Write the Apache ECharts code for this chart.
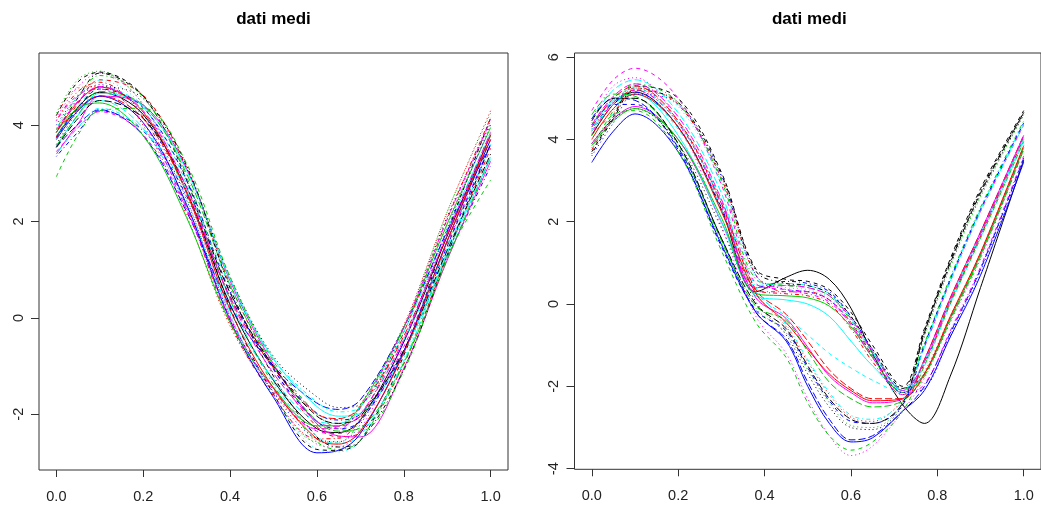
<!DOCTYPE html>
<html>
<head>
<meta charset="utf-8">
<script src="https://cdn.jsdelivr.net/npm/echarts@6/dist/echarts.min.js"></script>
<style>
html,body{margin:0;padding:0;background:#fff;}
#chart{width:1041px;height:509px;}
</style>
</head>
<body>
<div id="chart"></div>
<script>
// ---- data ----
const titleLeft = 'dati medi';
const titleRight = 'dati medi';
const xTicks = [0, 0.2, 0.4, 0.6, 0.8, 1.0];
const yTicksLeft = [-2, 0, 2, 4];
const yTicksRight = [-4, -2, 0, 2, 4, 6];

const xsLeft = [0, 0.05, 0.1, 0.2, 0.3, 0.4, 0.5, 0.6, 0.65, 0.7, 0.8, 0.9, 1.0];
const leftSeries = [
  [3.75,4.38,4.68,4.22,2.62,0.28,-1.3,-2.3,-2.38,-2.12,-0.5,1.7,3.8],
  [3.76,4.45,4.94,4.62,3.12,0.70,-1.05,-2.26,-2.47,-2.38,-0.96,1.31,3.52],
  [4.25,4.95,5.12,4.42,2.48,-0.04,-1.63,-2.57,-2.58,-2.12,-0.22,2.2,4.25],
  [3.35,3.86,4.3,3.88,2.53,0.45,-1.0,-1.98,-2.12,-1.99,-0.69,1.26,3.15],
  [3.78,4.32,4.51,3.93,2.32,0.14,-1.27,-2.14,-2.19,-1.86,-0.29,1.83,3.82],
  [3.4,4.03,4.6,4.42,3.09,0.77,-0.96,-2.2,-2.45,-2.47,-1.05,1.2,3.25],
  [4.2,4.9,5.1,4.6,2.86,0.21,-1.58,-2.73,-2.75,-2.55,-0.78,1.77,4.15],
  [4.2,4.77,4.8,3.99,2.12,-0.17,-1.54,-2.3,-2.25,-1.8,-0.15,2.2,4.3],
  [3.92,4.61,5.03,4.58,2.92,0.38,-1.39,-2.57,-2.73,-2.54,-0.94,1.47,3.78],
  [3.54,4.02,4.32,3.78,2.2,0.25,-1.0,-1.77,-1.9,-1.7,-0.2,1.8,3.6],
  [3.57,4.2,4.66,4.4,3.06,0.8,-0.85,-1.84,-2.04,-1.98,-0.7,1.33,3.34],
  [3.45,3.95,4.28,3.8,2.25,0.0,-1.5,-2.35,-2.4,-2.15,-0.6,1.55,3.6],
  [3.6,4.3,4.8,4.55,3.1,0.85,-0.8,-1.64,-1.86,-1.8,-0.19,2.1,4.05],
  [4.1,4.7,4.89,4.16,2.3,-0.11,-1.62,-2.51,-2.5,-2.07,-0.3,2.05,4.15],
  [3.56,4.22,4.7,4.41,2.99,0.68,-0.99,-2.15,-2.35,-2.28,-0.93,1.22,3.33],
  [3.7,4.3,4.6,4.05,2.35,-0.05,-1.65,-2.8,-2.75,-2.4,-0.7,1.6,3.7],
  [3.73,4.39,4.79,4.37,2.78,0.36,-1.33,-2.46,-2.6,-2.44,-0.9,1.38,3.6],
  [4.15,4.8,5.08,4.43,2.58,0.05,-1.6,-2.62,-2.68,-2.31,-0.51,1.95,4.1],
  [3.85,4.57,5.08,4.6,3.16,0.62,-1.21,-2.47,-2.68,-2.55,-1.08,1.3,3.62],
  [3.76,4.33,4.61,4.14,2.62,0.43,-1.04,-1.99,-2.09,-1.85,-0.38,1.71,3.7],
  [3.85,4.36,4.46,3.78,2.08,-0.1,-1.45,-2.24,-2.24,-1.82,-0.2,1.95,3.95],
  [3.73,4.36,4.75,4.36,2.85,0.54,-1.07,-2.15,-2.3,-2.14,-0.69,1.49,3.59],
  [3.94,4.6,4.93,4.38,2.62,0.09,-1.62,-2.72,-2.78,-2.55,-0.85,1.58,3.89],
  [4.09,4.63,4.75,4.04,2.26,-0.03,-1.46,-2.3,-2.3,-1.87,-0.2,2.05,4.1],
  [3.54,4.14,4.51,4.14,2.71,0.52,-1.01,-2.04,-2.19,-2.04,-0.67,1.4,3.4],
  [3.85,4.48,4.79,4.27,2.59,0.17,-1.46,-2.51,-2.62,-2.35,-0.73,1.59,3.8],
  [2.93,3.8,4.3,4.35,3.2,0.85,-0.9,-2.0,-2.3,-2.35,-1.1,1.27,2.86],
  [4.0,4.6,4.84,4.21,2.44,0.03,-1.54,-2.51,-2.57,-2.21,-0.49,1.86,4.0],
  [3.4,3.95,4.35,3.91,2.64,0.68,-0.85,-1.75,-1.95,-1.85,-0.45,1.45,3.3],
  [3.9,4.5,4.8,4.3,2.7,0.4,-1.15,-2.15,-2.25,-2.0,-0.45,1.75,3.85]
];

const xsRight = [0, 0.05, 0.1, 0.2, 0.3, 0.38, 0.45, 0.5, 0.55, 0.6, 0.65, 0.72, 0.77, 0.83, 0.9, 1.0];
const rightSeries = [
  [4.1,4.85,5.15,4.3,2.3,0.3, 0.65,0.82,0.6,-0.1,-1.2,-2.45, -2.9,-1.75,0.4,3.5],
  [3.75,4.6,5.25,4.85,3.05,0.7, 0.3,0.3,0.1,-0.45,-1.25,-2.15, -1.4,0.05,1.65,4.05],
  [4.4,4.95,5.0,3.85,1.5,-0.1, -0.7,-1.6,-2.4,-2.95,-3.0,-2.4, -0.8,0.9,2.6,4.6],
  [4.25,4.9,5.15,4.3,2.35,0.4, 0.55,0.5,0.3,-0.3,-1.1,-2.05, -1.7,-0.35,1.2,3.8],
  [4.5,5.2,5.45,4.65,2.7,0.45, 0.5,0.45,0.25,-0.35,-1.15,-2.1, -1.0,0.6,2.3,4.4],
  [3.9,4.5,4.8,4.0,2.0,0.15, -0.35,-1.05,-1.75,-2.15,-2.4,-2.3, -1.35,0.15,1.75,4.1],
  [3.7,4.55,5.3,5.0,3.2,0.85, 0.6,0.55,0.35,-0.2,-1.0,-2.0, -0.6,1.1,2.8,4.7],
  [4.2,4.9,5.25,4.45,2.5,0.3, -0.55,-1.4,-2.2,-2.75,-2.85,-2.35, -1.65,-0.3,1.25,3.85],
  [3.8,4.7,5.35,4.9,3.0,0.6, 0.45,0.4,0.2,-0.4,-1.2,-2.1, -0.95,0.65,2.35,4.45],
  [4.5,5.0,4.95,3.8,1.6,-0.2, -0.85,-1.9,-2.8,-3.3,-3.2,-2.6, -2.0,-0.7,0.85,3.55],
  [4.3,4.95,5.1,4.1,2.0,0.2, 0.1,0.0,-0.3,-0.9,-1.5,-2.1, -1.4,0.1,1.7,4.0],
  [4.7,5.45,5.73,5.0,2.9,0.5, 0.35,0.3,0.1,-0.5,-1.3,-2.15, -1.05,0.55,2.25,4.35],
  [3.9,4.5,4.75,3.9,1.85,0.05, -0.75,-1.7,-2.5,-3.0,-3.05,-2.45, -0.75,0.95,2.65,4.6],
  [4.1,4.85,5.2,4.4,2.45,0.35, 0.25,0.2,0.0,-0.6,-1.4,-2.2, -1.45,0.05,1.65,4.05],
  [4.6,5.1,5.05,3.9,1.55,-0.05, -0.4,-1.15,-1.9,-2.3,-2.5,-2.35, -1.75,-0.4,1.15,3.75],
  [3.44,4.2,4.62,3.7,1.45,-0.2, -0.9,-2.0,-2.9,-3.35,-3.25,-2.6, -2.1,-0.8,0.7,3.45],
  [4.2,4.85,5.1,4.25,2.3,0.3, -0.3,-0.75,-1.2,-1.55,-1.85,-2.15, -1.5,0.0,1.6,3.95],
  [4.5,5.3,5.5,4.4,1.9,-0.3, -1.2,-2.3,-3.2,-3.68,-3.45,-2.6, -1.8,-0.45,1.1,3.75],
  [3.65,4.5,5.2,4.9,3.15,0.8, 0.5,0.45,0.25,-0.3,-1.1,-2.05, -0.65,1.05,2.75,4.65],
  [4.3,5.0,5.3,4.45,2.45,0.35, -0.25,-0.9,-1.6,-2.05,-2.3,-2.3, -1.35,0.15,1.75,4.1],
  [3.85,4.45,4.75,4.0,2.1,0.25, 0.2,0.15,-0.05,-0.55,-1.3,-2.15, -1.7,-0.35,1.2,3.8],
  [4.35,4.85,4.85,3.75,1.4,-0.15, -0.65,-1.55,-2.35,-2.85,-2.9,-2.45, -1.0,0.6,2.3,4.4],
  [3.75,4.65,5.3,4.8,2.95,0.65, 0.4,0.35,0.15,-0.4,-1.2,-2.1, -1.4,0.1,1.7,4.05],
  [4.15,4.9,5.2,4.4,2.4,0.3, 0.3,0.25,0.05,-0.5,-1.3,-2.2, -1.95,-0.65,0.9,3.6],
  [4.45,5.0,5.0,3.9,1.6,0.0, -0.6,-1.5,-2.3,-2.8,-2.9,-2.4, -0.7,1.0,2.7,4.65],
  [4.0,4.75,5.1,4.3,2.25,0.25, -0.45,-1.1,-1.7,-2.1,-2.35,-2.3, -1.7,-0.3,1.25,3.85],
  [4.1,4.6,4.7,3.7,1.3,-0.45, -1.3,-2.4,-3.2,-3.55,-3.35,-2.6, -1.5,0.0,1.6,3.95],
  [3.6,4.4,5.1,4.85,3.1,0.7, 0.35,0.3,0.1,-0.45,-1.25,-2.15, -2.05,-0.75,0.8,3.5],
  [4.25,4.95,5.25,4.4,2.5,0.4, -0.5,-1.35,-2.15,-2.7,-2.8,-2.35, -1.05,0.55,2.25,4.35],
  [4.35,5.05,5.35,4.55,2.55,0.4, 0.45,0.4,0.2,-0.35,-1.15,-2.1, -1.4,0.1,1.7,4.1]
];

// ---- styling (R matplot defaults) ----
const palette = ['#000000', '#FF0000', '#00CD00', '#0000FF', '#00FFFF', '#FF00FF'];
const dashes = ['solid', [4, 4], [1, 3], [1, 3, 4, 3], [7, 3]];
const FONT = '"Liberation Sans", Arial, sans-serif';

function xAxisCfg(idx) {
  return {
    type: 'value', gridIndex: idx, min: -0.04, max: 1.04, position: 'bottom',
    axisLine: {show: false, onZero: false},
    splitLine: {show: false},
    axisTick: {show: true, length: 7, customValues: xTicks, lineStyle: {color: '#333', width: 1}},
    axisLabel: {customValues: xTicks, margin: 19, fontSize: 14.5, fontFamily: FONT, color: '#222',
      formatter: v => v.toFixed(1)}
  };
}
function yAxisCfg(idx, min, max, ticks) {
  return {
    type: 'value', gridIndex: idx, min: min, max: max, position: 'left',
    axisLine: {show: false, onZero: false},
    splitLine: {show: false},
    axisTick: {show: true, length: 8, customValues: ticks, lineStyle: {color: '#333', width: 1}},
    axisLabel: {customValues: ticks, rotate: 90, margin: 13, fontSize: 14.5, fontFamily: FONT, color: '#222',
      formatter: v => String(v)}
  };
}

const series = [];
leftSeries.forEach((ys, i) => {
  series.push({
    type: 'line', xAxisIndex: 0, yAxisIndex: 0, symbol: 'none', smooth: 0.35, silent: true,
    data: xsLeft.map((x, j) => [x, ys[j]]),
    lineStyle: {color: palette[i % 6], width: 1, type: dashes[i % 5]}
  });
});
rightSeries.forEach((ys, i) => {
  series.push({
    type: 'line', xAxisIndex: 1, yAxisIndex: 1, symbol: 'none', smooth: 0.35, silent: true,
    data: xsRight.map((x, j) => [x, ys[j]]),
    lineStyle: {color: palette[i % 6], width: 1, type: dashes[i % 5]}
  });
});

const chart = echarts.init(document.getElementById('chart'), null, {renderer: 'canvas'});
chart.setOption({
  animation: false,
  backgroundColor: '#fff',
  title: [
    {text: titleLeft, left: 273.5, top: 11, padding: 0, textAlign: 'center',
     textStyle: {fontSize: 17, fontWeight: 'bold', fontFamily: FONT, color: '#000'}},
    {text: titleRight, left: 809.3, top: 11, padding: 0, textAlign: 'center',
     textStyle: {fontSize: 17, fontWeight: 'bold', fontFamily: FONT, color: '#000'}}
  ],
  grid: [
    {left: 39, top: 53, width: 469, height: 417, show: true, borderColor: '#333', borderWidth: 1, backgroundColor: 'transparent'},
    {left: 574.5, top: 53, width: 470, height: 416.3, show: true, borderColor: '#333', borderWidth: 1, backgroundColor: 'transparent'}
  ],
  xAxis: [xAxisCfg(0), xAxisCfg(1)],
  yAxis: [yAxisCfg(0, -3.157, 5.497, yTicksLeft), yAxisCfg(1, -4.015, 6.1, yTicksRight)],
  series: series
});
</script>
</body>
</html>
